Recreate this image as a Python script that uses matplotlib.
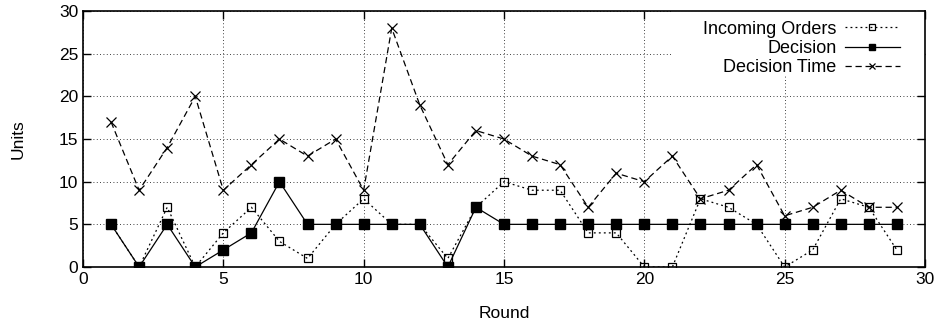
import matplotlib
matplotlib.use("Agg")
import matplotlib.pyplot as plt
from matplotlib.patches import Rectangle

plt.rcParams['font.family'] = ['Liberation Sans', 'DejaVu Sans']

rounds = list(range(1, 30))
incoming = [5, 0, 7, 0, 4, 7, 3, 1, 5, 8, 5, 5, 1, 7, 10, 9, 9, 4, 4, 0,
            0, 8, 7, 5, 0, 2, 8, 7, 2]
decision = [5, 0, 5, 0, 2, 4, 10, 5, 5, 5, 5, 5, 0, 7, 5, 5, 5, 5, 5, 5,
            5, 5, 5, 5, 5, 5, 5, 5, 5]
decision_time = [17, 9, 14, 20, 9, 12, 15, 13, 15, 9, 28, 19, 12, 16, 15, 13, 12, 7, 11, 10,
                 13, 8, 9, 12, 6, 7, 9, 7, 7]

fig = plt.figure(figsize=(9.4, 3.27), dpi=100)
ax = fig.add_axes([0.0883, 0.1835, 0.8957, 0.7825])

ax.plot(rounds, incoming, color='black', lw=0.9, ls=(0, (1.5, 2.5)), zorder=3,
        marker='s', ms=6, mfc='none', mec='black', mew=0.9, label='Incoming Orders')
ax.plot(rounds, decision, color='black', lw=0.9, ls='-', zorder=3,
        marker='s', ms=6.7, mfc='black', mec='black', label='Decision')
ax.plot(rounds, decision_time, color='black', lw=0.9, ls=(0, (5, 3)), zorder=3,
        marker='x', ms=6.5, mew=0.9, label='Decision Time')

ax.set_xlim(0, 30)
ax.set_ylim(0, 30)
ax.set_xticks(range(0, 31, 5))
ax.set_yticks(range(0, 31, 5))
ax.grid(True, color='black', lw=0.6, ls=(0, (1, 3)))
ax.tick_params(direction='in', top=True, right=True, length=6, labelsize=12.5, width=1)
for s in ax.spines.values():
    s.set_linewidth(1.2)
ax.set_xlabel('Round', fontsize=12.5, labelpad=14)
ax.set_ylabel('Units', fontsize=12.5, labelpad=24)

# white key area hides the grid behind the legend
ax.add_patch(Rectangle((0.6995, 0.75), 0.3, 0.25, transform=ax.transAxes,
                       facecolor='white', edgecolor='none', zorder=1.8))

leg = ax.legend(loc='upper right', bbox_to_anchor=(0.970, 0.963), markerfirst=False,
                fontsize=13, frameon=False, handlelength=3.05, labelspacing=0.13,
                borderpad=0, borderaxespad=0, handletextpad=0.45, markerscale=0.7)
for t in leg.get_texts():
    t.set_ha('right')
leg._legend_box.align = 'right'

fig.savefig('out.png', dpi=100)
